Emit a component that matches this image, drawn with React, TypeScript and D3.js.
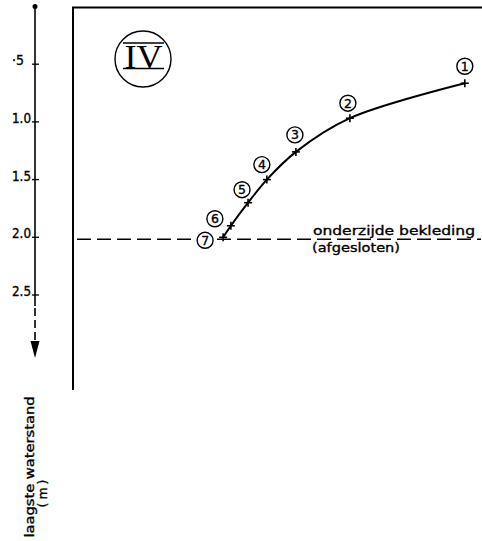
import React from "react";
import * as d3 from "d3";

// Data
const pointIds = ["1", "2", "3", "4", "5", "6", "7"];
const xValues = [9.58, 6.77, 5.45, 4.74, 4.28, 3.86, 3.67]; // horizontal position (no axis)
const yValues = [0.665, 0.968, 1.26, 1.5, 1.7, 1.9, 2.0]; // laagste waterstand (m)
const yTickValues = [0.5, 1.0, 1.5, 2.0, 2.5];
const yTickLabels = ["·5", "1.0", "1.5", "2.0", "2.5"];
const refLevel = 2.0;
const refLabel1 = "onderzijde bekleding";
const refLabel2 = "(afgesloten)";
const panelLabel = "IV";
const axisLabel1 = "laagste waterstand";
const axisLabel2 = "(m)";

// label offsets (styling)
const labelOffsets: [number, number][] = [
  [0, -17], [-2, -15], [-1, -17], [-5, -15], [-6, -13], [-16, -7], [-18, 3],
];

const W = 482;
const H = 541;
const FONT = "DejaVu Sans, sans-serif";

export default function App() {
  const y = d3.scaleLinear().domain([0, 2.5]).range([6.5, 295]);
  const x = d3.scaleLinear().domain([0, 10]).range([73, 482]);
  const axisX = 35;
  const frameX = 73;

  const pts = pointIds.map((id, i) => ({ id, x: x(xValues[i]), y: y(yValues[i]), off: labelOffsets[i] }));
  const ordered = [...pts].reverse();
  const line = d3
    .line<{ x: number; y: number }>()
    .x((d) => d.x)
    .y((d) => d.y)
    .curve(d3.curveCatmullRom.alpha(0.5));

  const refY = y(refLevel);
  const arrowTip = 358;
  const textStroke = { stroke: "#000", strokeWidth: 0.35 };

  return (
    <svg
      width={W}
      height={H}
      style={{ position: "absolute", left: 0, top: 0, background: "#fff" }}
      fontFamily={FONT}
    >
      <rect x={0} y={0} width={W} height={H} fill="#fff" />
      {/* left value axis with arrow */}
      <circle cx={axisX} cy={y(0)} r={2.5} fill="#000" />
      <line x1={axisX} y1={y(0)} x2={axisX} y2={306} stroke="#000" strokeWidth={1.6} />
      <line x1={axisX} y1={308} x2={axisX} y2={345} stroke="#000" strokeWidth={1.6} strokeDasharray="8,4" />
      <path
        d={`M${axisX - 4.5},${arrowTip - 17} L${axisX + 4.5},${arrowTip - 17} L${axisX},${arrowTip} Z`}
        fill="#000"
      />
      {yTickValues.map((v, i) => (
        <g key={v}>
          <line x1={axisX - 3} x2={axisX + 4} y1={y(v)} y2={y(v)} stroke="#000" strokeWidth={1.3} />
          <text
            x={i === 0 ? 24 : 31}
            y={y(v) + 1}
            textAnchor="end"
            fontSize={13.5}
            fill="#000"
            {...textStroke}
            textLength={i === 0 ? 12 : 19}
            lengthAdjust="spacingAndGlyphs"
          >
            {yTickLabels[i]}
          </text>
        </g>
      ))}

      {/* frame */}
      <line x1={frameX} y1={7} x2={frameX} y2={390} stroke="#000" strokeWidth={2} />
      <line x1={frameX - 1} y1={7.5} x2={W} y2={7.5} stroke="#000" strokeWidth={2} />

      {/* panel label */}
      <circle cx={143} cy={59} r={28} fill="none" stroke="#000" strokeWidth={1.4} />
      <line x1={123} x2={164} y1={43} y2={43} stroke="#000" strokeWidth={1.6} />
      <line x1={123} x2={164} y1={68.5} y2={68.5} stroke="#000" strokeWidth={1.6} />
      <text x={143.5} y={67.5} textAnchor="middle" fontSize={33} fontFamily="Liberation Serif, serif" fill="#000" textLength={38} lengthAdjust="spacingAndGlyphs">
        {panelLabel}
      </text>

      {/* reference dashed level */}
      <line x1={77} x2={481} y1={refY + 2} y2={refY + 2} stroke="#000" strokeWidth={1.4} strokeDasharray="14,6" />
      <text x={313} y={235} fontSize={13} fill="#000" {...textStroke} textLength={162} lengthAdjust="spacingAndGlyphs">
        {refLabel1}
      </text>
      <text x={312} y={252} fontSize={13} fill="#000" {...textStroke} textLength={88} lengthAdjust="spacingAndGlyphs">
        {refLabel2}
      </text>

      {/* curve */}
      <path d={line(ordered) ?? ""} fill="none" stroke="#000" strokeWidth={2} />
      {pts.map((p) => (
        <g key={p.id}>
          <line x1={p.x - 4} x2={p.x + 4} y1={p.y} y2={p.y} stroke="#000" strokeWidth={1.6} />
          <line x1={p.x} x2={p.x} y1={p.y - 4} y2={p.y + 4} stroke="#000" strokeWidth={1.6} />
          <circle cx={p.x + p.off[0]} cy={p.y + p.off[1]} r={8} fill="#fff" stroke="#000" strokeWidth={1.4} />
          <text
            x={p.x + p.off[0]}
            y={p.y + p.off[1] + 4.5}
            textAnchor="middle"
            fontSize={12.5}
            fill="#000"
            {...textStroke}
          >
            {p.id}
          </text>
        </g>
      ))}

      {/* axis label */}
      <text transform="translate(34,467) rotate(-90)" textAnchor="middle" fontSize={12.5} fill="#000" {...textStroke} textLength={141} lengthAdjust="spacingAndGlyphs">
        {axisLabel1}
      </text>
      <text transform="translate(47,492) rotate(-90)" textAnchor="middle" fontSize={12.5} fill="#000" {...textStroke} letterSpacing={3}>
        {axisLabel2}
      </text>
    </svg>
  );
}
